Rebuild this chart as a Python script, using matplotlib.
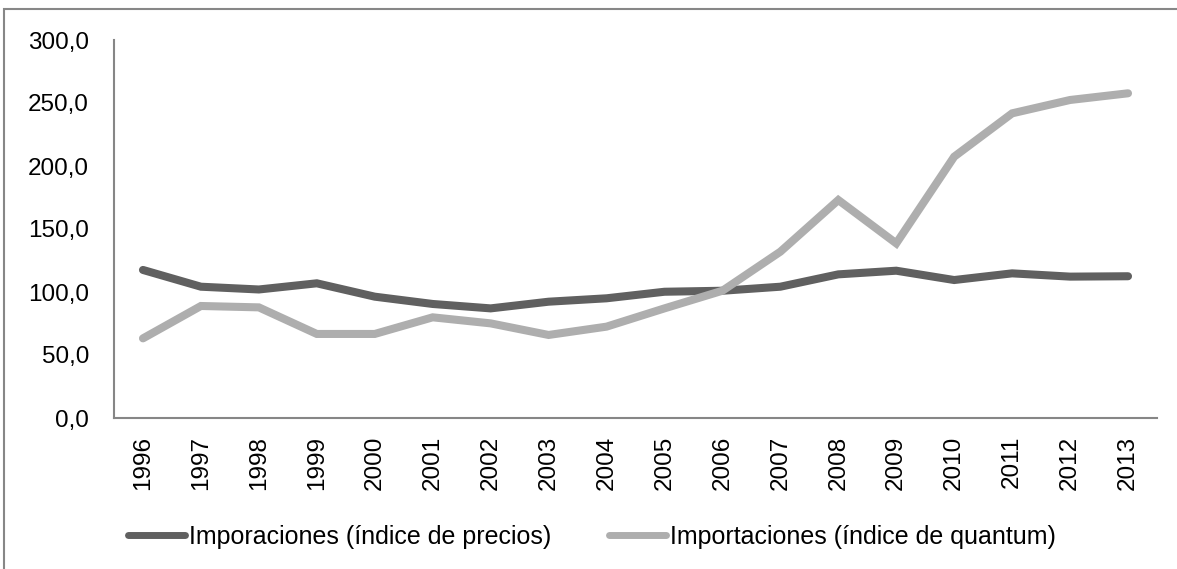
import matplotlib
matplotlib.use("Agg")
import matplotlib.pyplot as plt
import matplotlib.patches as patches
from matplotlib.ticker import FuncFormatter

plt.rcParams['font.family'] = ['Liberation Sans', 'DejaVu Sans']

years = [str(y) for y in range(1996, 2014)]
precios = [117.5, 104.2, 102.0, 106.9, 96.3, 90.5, 87.0, 92.3, 95.0, 100.2,
           101.0, 104.2, 114.0, 116.9, 109.5, 114.8, 112.2, 112.5]
quantum = [63.2, 88.9, 87.8, 66.7, 66.7, 79.9, 75.1, 65.9, 72.5, 87.0,
           101.0, 132.0, 173.0, 138.6, 207.4, 241.8, 252.4, 257.7]
label_precios = "Imporaciones (índice de precios)"
label_quantum = "Importaciones (índice de quantum)"

fig = plt.figure(figsize=(11.77, 5.69), dpi=100)
ax = fig.add_axes([114/1177, 151/569, 1043/1177, 378/569])

x = range(len(years))
ax.plot(x, precios, color='#606060', lw=5.8, solid_capstyle='round',
        solid_joinstyle='miter', label=label_precios)
ax.plot(x, quantum, color='#aeaeae', lw=5.8, solid_capstyle='round',
        solid_joinstyle='miter', label=label_quantum)

ax.set_xlim(-0.5, len(years) - 0.5)
ax.set_ylim(0, 300)
ax.set_yticks(range(0, 301, 50))
ax.yaxis.set_major_formatter(FuncFormatter(lambda v, p: f"{v:.1f}".replace('.', ',')))
ax.set_xticks(list(x))
ax.set_xticklabels(years, rotation=90)
ax.tick_params(axis='y', length=0, pad=18, labelsize=17.5)
ax.tick_params(axis='x', length=0, pad=13, labelsize=17.5)

for s in ['top', 'right']:
    ax.spines[s].set_visible(False)
for s in ['left', 'bottom']:
    ax.spines[s].set_color('#868686')
    ax.spines[s].set_linewidth(1.5)

leg = fig.legend(loc='center', bbox_to_anchor=(592/1177, 1 - 537/569), ncol=2,
                 frameon=False, fontsize=18, handlelength=2.3, handletextpad=0.15,
                 columnspacing=2.3)
for h in leg.legend_handles:
    h.set_linewidth(5)
    h.set_solid_capstyle('round')

# outer frame of the chart (right and bottom edges fall outside the image)
frame = patches.Rectangle((4/1177, -0.1), 1.2, (569 - 9)/569 + 0.1,
                          transform=fig.transFigure, fill=False,
                          edgecolor='#878787', lw=1.5)
fig.patches.append(frame)

fig.savefig("out.png", dpi=100)
